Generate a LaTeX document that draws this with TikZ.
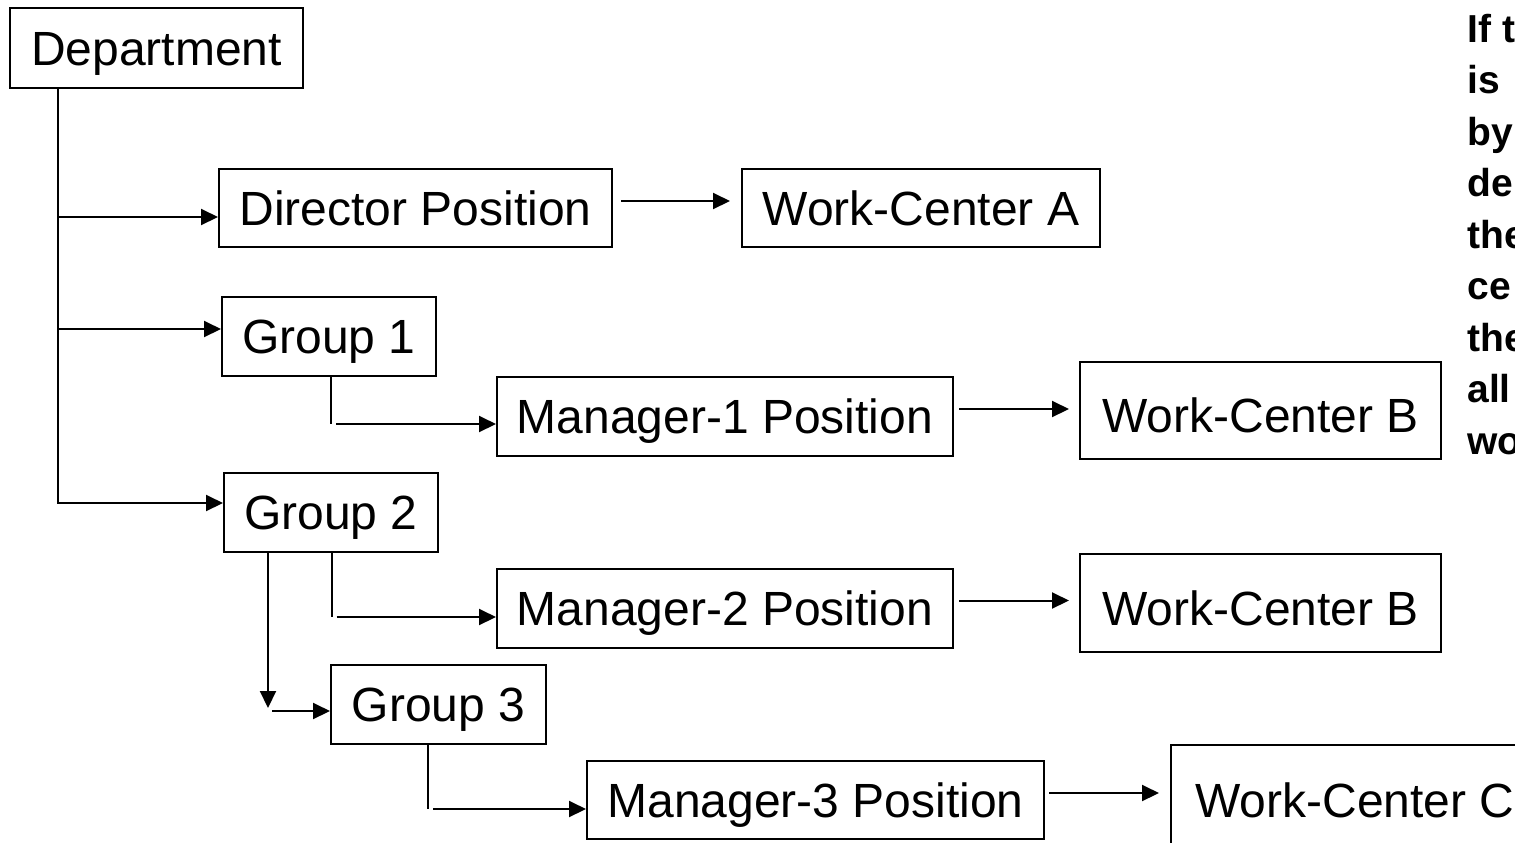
\documentclass[tikz,border=0pt]{standalone}
\usepackage{fontspec}
\setmainfont{Liberation Sans}
\usetikzlibrary{arrows.meta,calc}
\begin{document}
\begin{tikzpicture}[x=0.5pt,y=-0.5pt,
  box/.style={draw, line width=1pt, inner sep=0pt, text height=17.2pt, text depth=0pt,
              font=\fontsize{24}{28}\selectfont},
  link/.style={line width=1pt},
  arr/.style={link, -{Triangle[length=8.5pt,width=8pt]}},
  note/.style={anchor=base west, inner sep=0pt, font=\fontsize{19.5}{23}\selectfont\bfseries}]
\useasboundingbox (0,0) rectangle (1515,842);
\clip (0,0) rectangle (1515,842);

% boxes
\node[box, minimum width=146.5pt, minimum height=40pt] (dept) at (156.5,48) {Department};
\node[box, minimum width=196.5pt, minimum height=39pt] (dir) at (415.5,208) {Director Position};
\node[box, minimum width=179pt, minimum height=39pt] (wca) at (921,208) {Work-Center A};
\node[box, minimum width=107pt, minimum height=39.5pt] (g1) at (329,336.5) {Group 1};
\node[box, minimum width=228pt, minimum height=39.5pt] (m1) at (725,416.5) {Manager-1 Position};
\node[box, minimum width=180.5pt, minimum height=48.5pt, text height=22.2pt] (wcb1) at (1260.5,410.5) {Work-Center B};
\node[box, minimum width=107pt, minimum height=39.5pt] (g2) at (331,512.5) {Group 2};
\node[box, minimum width=228pt, minimum height=39.5pt] (m2) at (725,608.5) {Manager-2 Position};
\node[box, minimum width=180.5pt, minimum height=49pt, text height=22.2pt] (wcb2) at (1260.5,603) {Work-Center B};
\node[box, minimum width=107.5pt, minimum height=39.5pt] (g3) at (438.5,704.5) {Group 3};
\node[box, minimum width=228.5pt, minimum height=39pt] (m3) at (815.5,800) {Manager-3 Position};
\node[box, minimum width=184pt, minimum height=55pt] (wcc) at (1355,800) {Work-Center C};

% department trunk and its branches
\coordinate (trunk) at ($(dept.south west)+(49,0)$);
\coordinate (inDir) at ($(dir.west)+(0,9)$);
\coordinate (inG1) at ($(g1.west)+(0,-7.5)$);
\coordinate (inG2) at ($(g2.west)+(0,-9.5)$);
\draw[arr] (trunk) |- (inG2);
\draw[arr] (trunk |- inDir) -- (inDir);
\draw[arr] (trunk |- inG1) -- (inG1);

% positions to work-centers
\draw[arr] ($(dir.east)+(8,-7)$) -- ($(wca.west |- dir.east)+(-11,-7)$);
\draw[arr] ($(m1.east)+(5,-7.5)$) -- ($(wcb1.west |- m1.east)+(-10,-7.5)$);
\draw[arr] ($(m2.east)+(5,-8)$) -- ($(wcb2.west |- m2.east)+(-10,-8)$);
\draw[arr] ($(m3.east)+(4,-7)$) -- ($(wcc.west |- m3.east)+(-11,-7)$);

% group 1 to manager 1
\coordinate (g1d) at ($(g1.south)+(2,0)$);
\coordinate (inM1) at ($(m1.west)+(0,7.5)$);
\draw[link] (g1d) -- (g1d |- inM1);
\draw[arr] ($(g1d |- inM1)+(5,0)$) -- (inM1);

% group 2 to manager 2
\coordinate (g2d) at ($(g2.south)+(0.5,0)$);
\coordinate (inM2) at ($(m2.west)+(0,8.5)$);
\draw[link] (g2d) -- (g2d |- inM2);
\draw[arr] ($(g2d |- inM2)+(5,0)$) -- (inM2);

% group 2 to group 3
\coordinate (g2l) at ($(g2.south west)+(45,-2)$);
\coordinate (inG3) at ($(g3.west)+(0,6.5)$);
\draw[arr] (g2l) -- ($(g2l |- inG3)+(0,-3)$);
\draw[arr] ($(g2l |- inG3)+(4,0)$) -- (inG3);

% group 3 to manager 3
\coordinate (g3d) at ($(g3.south)+(-10.5,0)$);
\coordinate (inM3) at ($(m3.west)+(0,9)$);
\draw[link] (g3d) -- (g3d |- inM3);
\draw[arr] ($(g3d |- inM3)+(5,0)$) -- (inM3);

% side note
\foreach \t [count=\i from 0] in {If t, is, by, de, the, ce, the, all, wo}
  \node[note] (note\i) at (1467,{42+51.5*\i}) {\t};
\end{tikzpicture}
\end{document}
